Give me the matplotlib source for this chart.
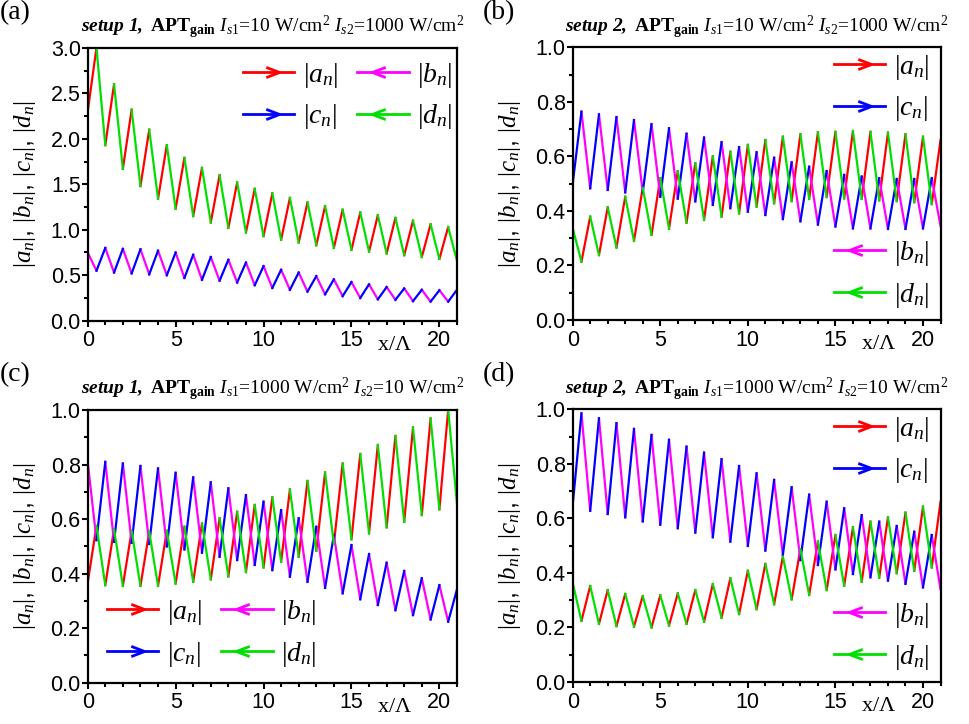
import numpy as np
import matplotlib
matplotlib.use('Agg')
import matplotlib.pyplot as plt
from matplotlib.lines import Line2D
from matplotlib.path import Path
from matplotlib.ticker import MultipleLocator

plt.rcParams['font.family'] = 'Liberation Sans'
plt.rcParams['mathtext.fontset'] = 'custom'
plt.rcParams['mathtext.rm'] = 'Liberation Serif'
plt.rcParams['mathtext.it'] = 'Liberation Serif:italic'
plt.rcParams['mathtext.bf'] = 'Liberation Serif:bold'
plt.rcParams['mathtext.bfit'] = 'Liberation Serif:italic:bold'

# node positions x/Lambda (half-period steps)
x_nodes = np.arange(43) * 0.5

# (a) setup 1, Is1=10, Is2=1000
a_ad = [2.30, 3.00, 1.93, 2.60, 1.67, 2.32, 1.48, 2.10, 1.34, 1.93, 1.23, 1.79, 1.15, 1.68,
        1.08, 1.60, 1.02, 1.52, 0.97, 1.45, 0.93, 1.40, 0.89, 1.35, 0.86, 1.30, 0.83, 1.26,
        0.80, 1.22, 0.78, 1.19, 0.76, 1.16, 0.74, 1.13, 0.72, 1.10, 0.70, 1.06, 0.68, 1.03, 0.66]
a_bc = [0.75, 0.55, 0.80, 0.53, 0.79, 0.52, 0.785, 0.51, 0.77, 0.50, 0.75, 0.47, 0.725, 0.45,
        0.70, 0.44, 0.67, 0.42, 0.64, 0.39, 0.60, 0.36, 0.56, 0.34, 0.53, 0.32, 0.49, 0.29,
        0.455, 0.27, 0.425, 0.25, 0.40, 0.235, 0.37, 0.23, 0.355, 0.215, 0.34, 0.21, 0.335, 0.21, 0.34]

# (b) setup 2, Is1=10, Is2=1000
b_ad = [0.336, 0.214, 0.379, 0.238, 0.413, 0.266, 0.452, 0.290, 0.485, 0.312, 0.520, 0.335,
        0.546, 0.357, 0.575, 0.367, 0.600, 0.379, 0.617, 0.391, 0.642, 0.416, 0.660, 0.428,
        0.672, 0.436, 0.681, 0.444, 0.688, 0.451, 0.690, 0.446, 0.693, 0.444, 0.690, 0.439,
        0.687, 0.436, 0.681, 0.432, 0.672, 0.425, 0.660]
b_bc = [0.500, 0.764, 0.483, 0.754, 0.477, 0.744, 0.468, 0.733, 0.468, 0.718, 0.452, 0.703,
        0.445, 0.683, 0.435, 0.669, 0.422, 0.652, 0.410, 0.634, 0.397, 0.615, 0.385, 0.595,
        0.370, 0.578, 0.362, 0.562, 0.350, 0.546, 0.343, 0.532, 0.336, 0.526, 0.336, 0.520,
        0.334, 0.517, 0.334, 0.517, 0.336, 0.520, 0.345]

# (c) setup 1, Is1=1000, Is2=10
c_ad = [0.367, 0.575, 0.358, 0.563, 0.355, 0.557, 0.355, 0.554, 0.355, 0.557, 0.364, 0.572,
        0.370, 0.584, 0.379, 0.603, 0.390, 0.627, 0.406, 0.652, 0.423, 0.680, 0.444, 0.709,
        0.462, 0.740, 0.484, 0.771, 0.509, 0.804, 0.526, 0.839, 0.548, 0.872, 0.570, 0.905,
        0.590, 0.936, 0.615, 0.969, 0.636, 1.000, 0.658]
c_bc = [0.810, 0.523, 0.810, 0.517, 0.804, 0.513, 0.795, 0.509, 0.786, 0.500, 0.770, 0.489,
        0.753, 0.477, 0.735, 0.462, 0.713, 0.450, 0.688, 0.432, 0.664, 0.413, 0.633, 0.389,
        0.603, 0.370, 0.572, 0.348, 0.542, 0.328, 0.505, 0.306, 0.472, 0.285, 0.440, 0.266,
        0.410, 0.248, 0.383, 0.232, 0.358, 0.224, 0.342]

# (d) setup 2, Is1=1000, Is2=10
d_ad = [0.364, 0.224, 0.352, 0.213, 0.337, 0.205, 0.323, 0.203, 0.315, 0.200, 0.318, 0.207,
        0.325, 0.213, 0.337, 0.221, 0.359, 0.236, 0.380, 0.249, 0.408, 0.267, 0.433, 0.285,
        0.460, 0.303, 0.487, 0.319, 0.515, 0.337, 0.539, 0.353, 0.567, 0.368, 0.588, 0.383,
        0.604, 0.399, 0.621, 0.408, 0.643, 0.420, 0.661]
d_bc = [0.649, 0.985, 0.628, 0.967, 0.616, 0.949, 0.604, 0.928, 0.589, 0.906, 0.577, 0.888,
        0.564, 0.863, 0.548, 0.841, 0.531, 0.817, 0.515, 0.792, 0.499, 0.765, 0.482, 0.741,
        0.466, 0.714, 0.447, 0.687, 0.429, 0.661, 0.413, 0.637, 0.396, 0.612, 0.384, 0.588,
        0.372, 0.572, 0.360, 0.551, 0.347, 0.539, 0.340]

colors = {'a': '#ff0000', 'b': '#ff00ff', 'c': '#0000ff', 'd': '#00e000'}
labels = {k: r'$|%s_n|$' % k for k in 'abcd'}

codes = [Path.MOVETO, Path.LINETO, Path.LINETO]
arrow_r = Path([(-0.2, 0.46), (1, 0), (-0.2, -0.46)], codes)
arrow_l = Path([(0.2, 0.46), (-1, 0), (0.2, -0.46)], codes)


def pieces(y, parity):
    xs, ys = [], []
    for i in range(parity, len(y) - 1, 2):
        xs += [x_nodes[i], x_nodes[i + 1], np.nan]
        ys += [y[i], y[i + 1], np.nan]
    return xs, ys


def handle(key):
    mk = arrow_r if key in 'ac' else arrow_l
    return Line2D([], [], color=colors[key], lw=2, marker=mk, markersize=16,
                  markerfacecolor='none', markeredgecolor=colors[key], markeredgewidth=2)


def legend(ax, keys, ncol, anchor):
    return ax.legend([handle(k) for k in keys], [labels[k] for k in keys], ncol=ncol,
                     loc='center left', bbox_to_anchor=anchor, frameon=False, numpoints=1,
                     fontsize=20, borderpad=0, borderaxespad=0, handlelength=1.85,
                     handletextpad=0.3, columnspacing=0.7, labelspacing=0.45)


def panel(rect, ad, bc, a_par, ymax, ystep, title, tag, tagpos):
    ax = fig.add_axes(rect)
    for key in 'abcd':
        curve = ad if key in 'ad' else bc
        par = a_par if key in 'ab' else 1 - a_par
        xs, ys = pieces(curve, par)
        ax.plot(xs, ys, color=colors[key], lw=1.6)
    ax.set_xlim(0, 21)
    ax.set_ylim(0, ymax)
    ax.xaxis.set_major_locator(MultipleLocator(5))
    ax.xaxis.set_minor_locator(MultipleLocator(1))
    ax.yaxis.set_major_locator(MultipleLocator(ystep))
    ax.yaxis.set_minor_locator(MultipleLocator(ystep / 2))
    ax.yaxis.set_major_formatter('{x:.1f}')
    ax.tick_params(which='both', direction='out', top=False, right=False, width=1.5,
                   labelsize=15.5)
    ax.tick_params(which='major', length=4)
    ax.tick_params(which='minor', length=3)
    ax.tick_params(axis='y', pad=1)
    ax.tick_params(axis='x', pad=3)
    for s in ax.spines.values():
        s.set_linewidth(1.6)
    ax.set_ylabel(r'$|a_n|$, $|b_n|$, $|c_n|$, $|d_n|$', fontsize=18)
    ax.yaxis.set_label_coords(-0.135, 0.5)
    ax.set_xlabel(r'x/$\Lambda$', fontsize=16, family='Liberation Serif')
    ax.xaxis.set_label_coords(0.831, -0.055)
    ax.set_title(title, fontsize=14, family='Liberation Serif', pad=11)
    fig.text(tagpos[0], tagpos[1], tag, fontsize=20, family='Liberation Serif', va='top')
    return ax


fig = plt.figure(figsize=(9.7, 7.24), dpi=100)

t1 = (r'$\mathbfit{setup\ 1,}$ $\mathbf{APT_{gain}}$ $I_{s1}$=10 W/cm$^2$ '
      r'$I_{s2}$=1000 W/cm$^2$')
t2 = (r'$\mathbfit{setup\ 2,}$ $\mathbf{APT_{gain}}$ $I_{s1}$=10 W/cm$^2$ '
      r'$I_{s2}$=1000 W/cm$^2$')
t3 = (r'$\mathbfit{setup\ 1,}$ $\mathbf{APT_{gain}}$ $I_{s1}$=1000 W/cm$^2$ '
      r'$I_{s2}$=10 W/cm$^2$')
t4 = (r'$\mathbfit{setup\ 2,}$ $\mathbf{APT_{gain}}$ $I_{s1}$=1000 W/cm$^2$ '
      r'$I_{s2}$=10 W/cm$^2$')

ax1 = panel([0.0904, 0.557, 0.3807, 0.377], a_ad, a_bc, 0, 3.0, 0.5, t1, '(a)', (0.0, 1.0))
legend(ax1, ['a', 'c', 'b', 'd'], 2, (0.42, 0.823))

ax2 = panel([0.5904, 0.558, 0.3792, 0.3767], b_ad, b_bc, 1, 1.0, 0.2, t2, '(b)', (0.498, 1.0))
lg = legend(ax2, ['a', 'c'], 1, (0.71, 0.85))
ax2.add_artist(lg)
legend(ax2, ['b', 'd'], 1, (0.71, 0.167))

ax3 = panel([0.0904, 0.057, 0.3807, 0.3766], c_ad, c_bc, 0, 1.0, 0.2, t3, '(c)', (0.0, 0.5))
legend(ax3, ['a', 'c', 'b', 'd'], 2, (0.052, 0.181))

ax4 = panel([0.5904, 0.058, 0.3792, 0.3767], d_ad, d_bc, 1, 1.0, 0.2, t4, '(d)', (0.498, 0.5))
lg = legend(ax4, ['a', 'c'], 1, (0.71, 0.85))
ax4.add_artist(lg)
legend(ax4, ['b', 'd'], 1, (0.71, 0.167))

fig.savefig('out.png', dpi=100)
